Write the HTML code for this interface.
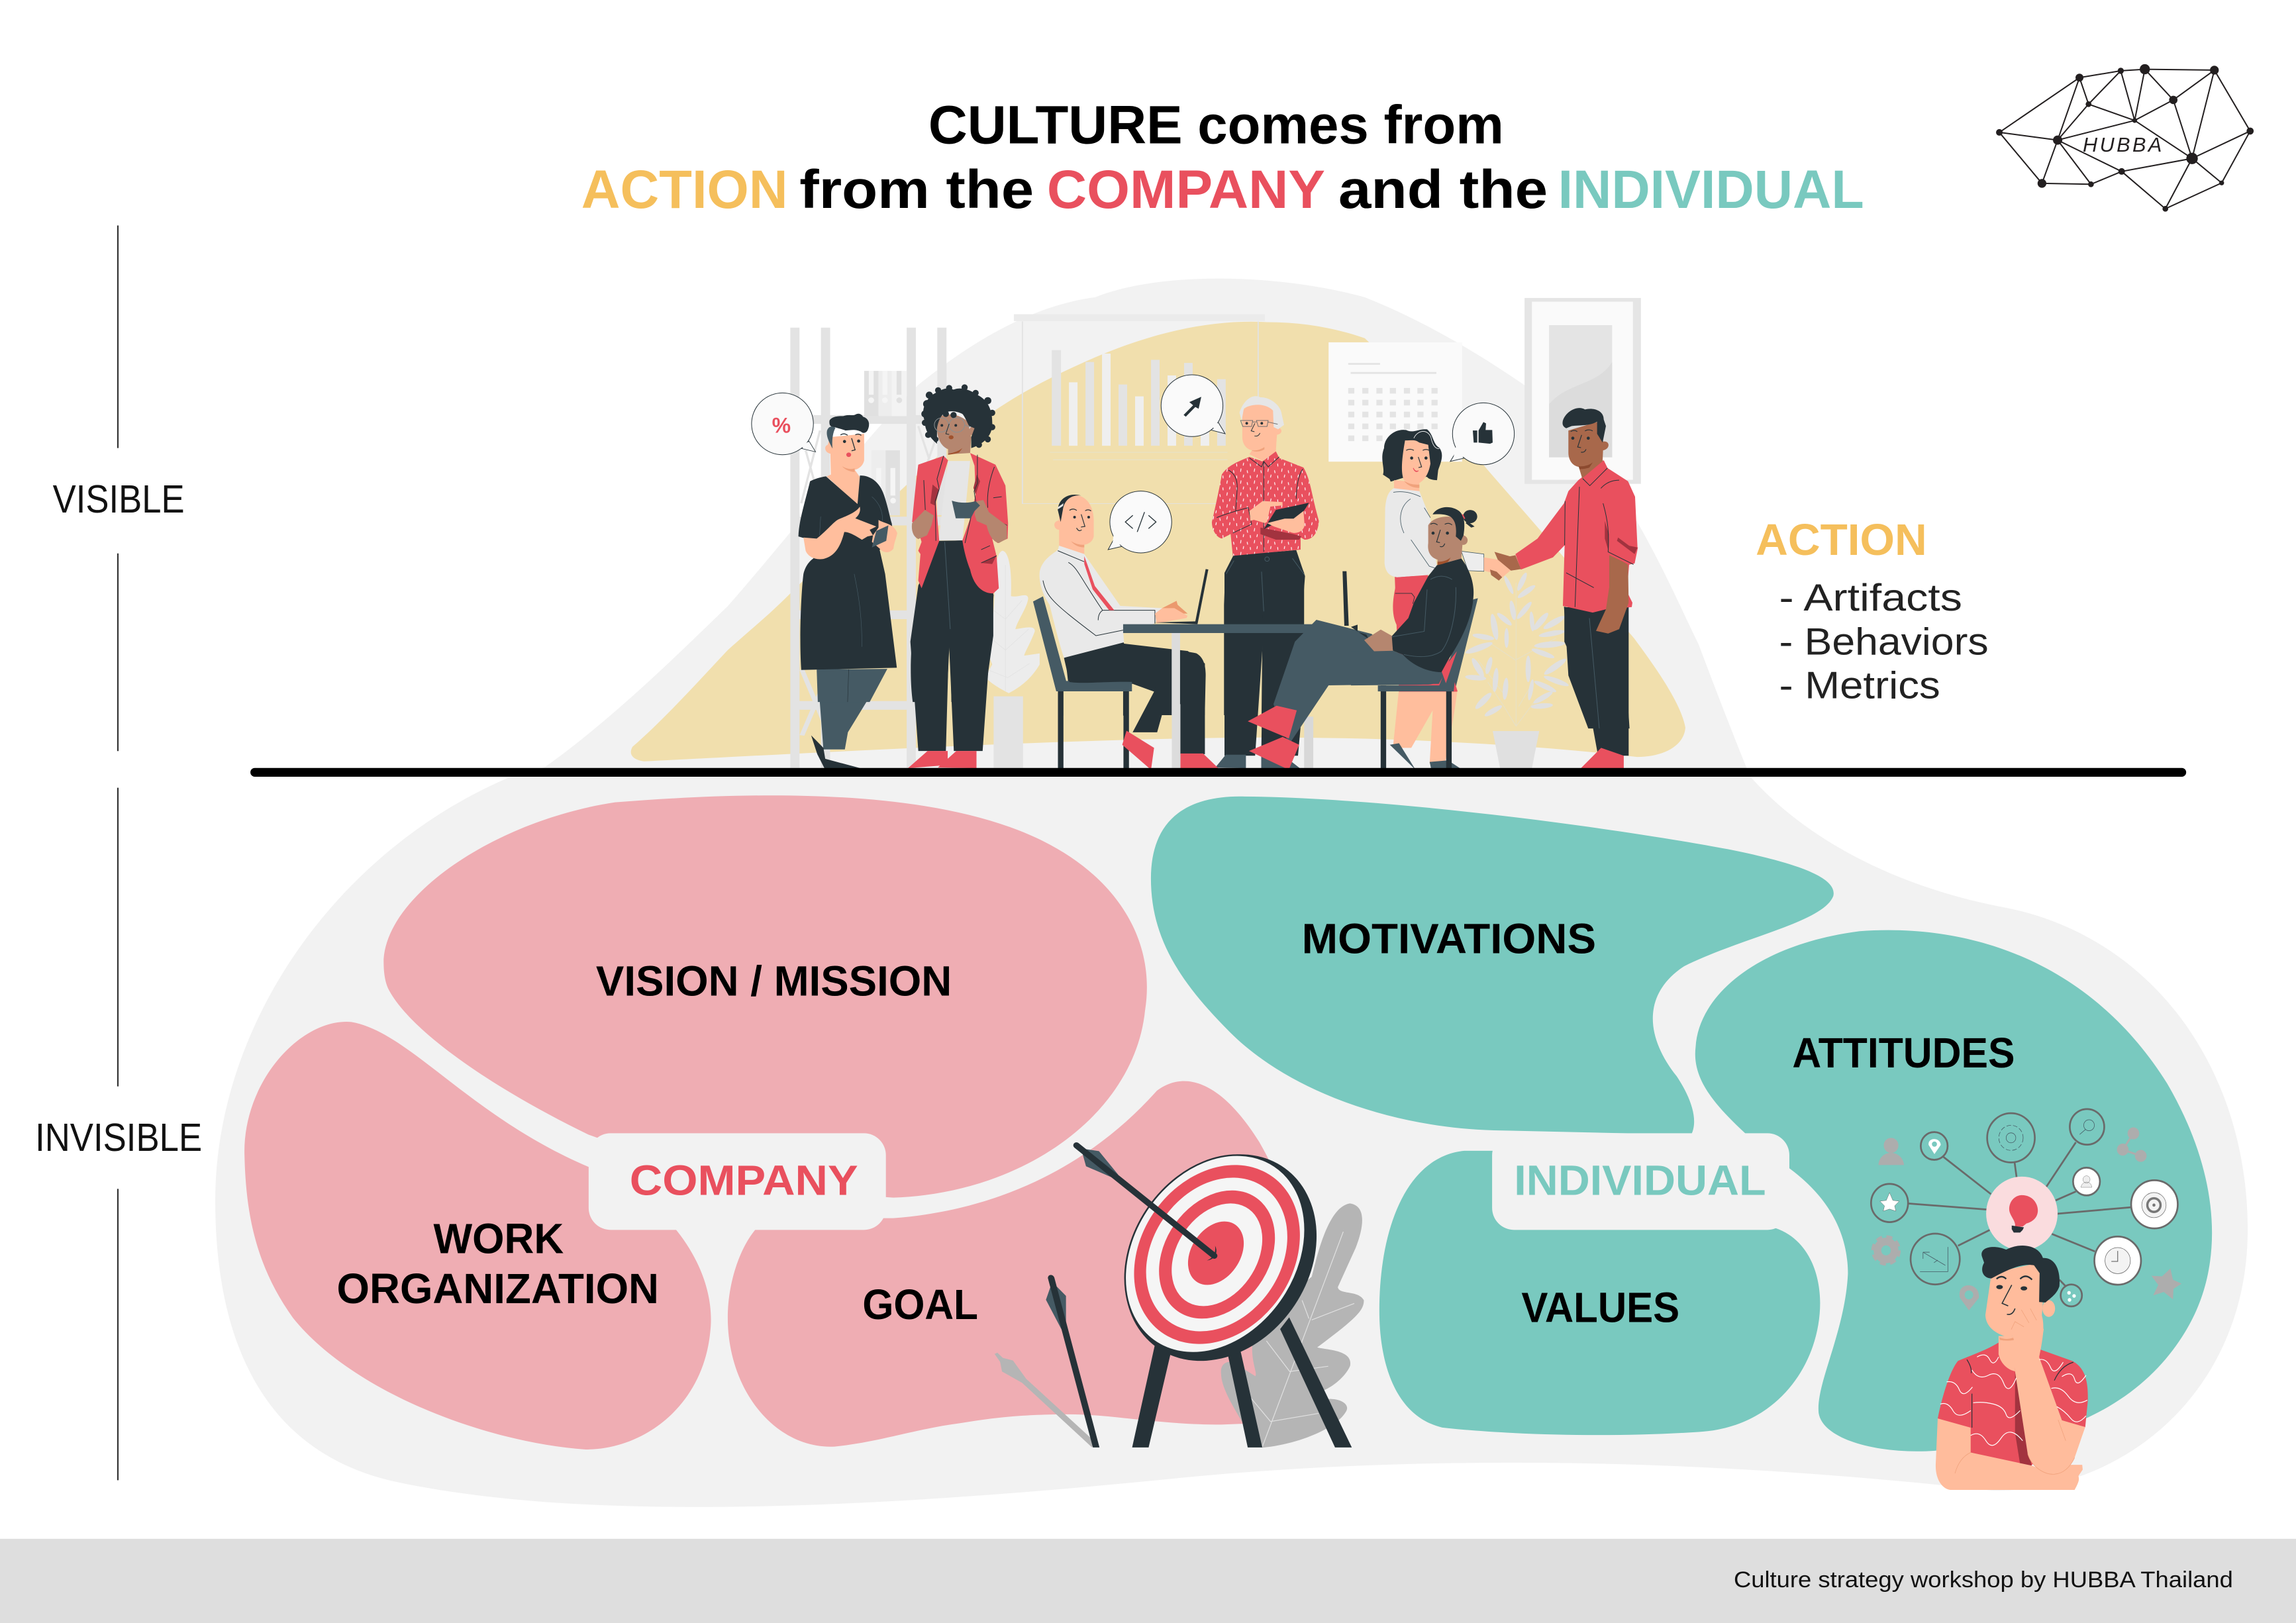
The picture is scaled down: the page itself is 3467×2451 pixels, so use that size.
<!DOCTYPE html>
<html><head><meta charset="utf-8"><title>Culture</title>
<style>html,body{margin:0;padding:0;background:#fff}svg{display:block}
text{font-family:"Liberation Sans",sans-serif}</style></head><body>
<svg xmlns="http://www.w3.org/2000/svg" width="3467" height="2451" viewBox="0 0 1568 1108.5">
<defs>
 <pattern id="dots" width="62" height="54" patternUnits="userSpaceOnUse">
  <path d="M12 6l-2 12M40 14l2 10M24 34l-2 10M54 38l1 10" stroke="#fff" stroke-width="3.5" stroke-linecap="round" fill="none"/>
 </pattern>
</defs>
<rect width="1568" height="1108.5" fill="#fff"/>
<!-- background blob -->
<path fill="#f2f2f2" d="M372 524C420 490 470 440 497 414C540 365 590 300 627 263C670 228 710 208 748 203C790 186 870 186 932 203C975 220 1015 245 1041 263C1070 290 1095 325 1116 353C1135 385 1150 420 1160 440C1175 480 1185 505 1195 530C1230 570 1290 605 1370 620C1470 640 1535 730 1535 840C1535 950 1450 1020 1360 1018C1200 1000 1000 990 800 1010C600 1030 400 1040 270 1012C170 990 147 900 147 820C147 700 230 580 350 530Z"/>
<!-- yellow -->
<path fill="#f1dfad" d="M432 510C455 490 480 462 497 444C515 428 525 420 539 406C565 380 590 358 614 336C635 316 655 298 677 282C700 266 725 254 748 244C790 226 830 218 865 220C890 220 912 224 932 231C965 262 995 295 1016 321C1050 360 1085 400 1116 436C1130 455 1148 480 1151 497C1150 510 1135 517 1118 517C1060 510 950 502 830 504C700 506 540 515 440 520C432 519 429 515 432 510Z"/>
<!-- pink -->
<path fill="#efadb3" d="M262 655C265 610 340 560 420 548C520 540 620 540 690 565C760 590 790 640 782 690C775 760 700 815 610 818L500 810L402 775C340 745 280 705 265 675C262 668 262 660 262 655Z"/>
<path fill="#efadb3" d="M167 790C165 740 205 695 240 698C280 705 320 762 402 797C460 820 490 870 485 910C480 960 440 990 400 990C330 985 240 950 200 900C175 865 168 830 167 790Z"/>
<path fill="#efadb3" d="M497 900C497 870 510 840 525 832L610 832C690 826 750 790 790 745C810 730 835 740 860 780C880 815 895 860 895 900L860 972L834 973C790 973 760 966 730 966C700 966 680 968 656 972C625 976 600 985 570 988C530 990 497 950 497 900Z"/>
<!-- teal -->
<path fill="#79c9bf" d="M786 600C786 560 810 543 850 544C950 545 1100 565 1180 580C1230 590 1255 600 1252 612C1245 630 1190 640 1150 660C1120 680 1125 710 1145 735C1155 750 1160 765 1155 775L1020 772C950 770 880 745 840 705C805 670 786 640 786 600Z"/>
<path fill="#79c9bf" d="M1158 715C1160 680 1200 645 1270 636C1350 630 1430 660 1480 740C1515 800 1520 860 1495 905C1470 950 1420 985 1330 990C1290 995 1245 985 1242 965C1240 945 1260 910 1262 870C1262 830 1235 805 1210 790C1175 760 1155 740 1158 715Z"/>
<path fill="#79c9bf" d="M942 895C942 840 960 790 1000 786L1030 786L1210 838C1235 845 1243 870 1243 890C1243 930 1215 975 1160 978C1100 982 1030 980 985 975C955 968 942 935 942 895Z"/>
<!-- label pads -->
<rect x="402" y="774" width="203" height="66" rx="15" fill="#f2f2f2"/>
<rect x="1019" y="774" width="203" height="66" rx="15" fill="#f2f2f2"/>
<!-- left rule lines -->
<g stroke="#333" stroke-width="1"><path d="M80.5 154V306M80.5 378V513M80.5 538V742M80.5 812V1011"/></g>

<!-- OFFICE BACKGROUND -->
<g transform="translate(497.5 203.5) scale(.4182 .2134)">
 <g fill="#e3e3e3">
  <rect x="101" y="95" width="15" height="1410"/><rect x="151" y="95" width="15" height="1410"/><rect x="291" y="95" width="15" height="1410"/><rect x="341" y="95" width="15" height="600"/>
  <rect x="105" y="375" width="250" height="28"/><rect x="105" y="700" width="250" height="28"/><rect x="105" y="1000" width="200" height="28"/><rect x="105" y="1290" width="200" height="28"/>
  <rect x="466" y="52" width="410" height="22" fill="#ebebeb"/>
  <rect x="528" y="167" width="15" height="306"/><rect x="556" y="270" width="14" height="203" fill="#efefef"/><rect x="583" y="205" width="14" height="268"/><rect x="610" y="178" width="14" height="295" fill="#efefef"/><rect x="637" y="277" width="14" height="196"/><rect x="664" y="315" width="14" height="158" fill="#efefef"/><rect x="690" y="198" width="14" height="275"/><rect x="717" y="248" width="14" height="225" fill="#efefef"/><rect x="744" y="208" width="14" height="265"/><rect x="771" y="270" width="14" height="203" fill="#efefef"/><rect x="798" y="260" width="14" height="213"/>
 </g>
 <path d="M480 75V658H865M865 75V500" fill="none" stroke="#e2e2e2" stroke-width="2"/>
 <path d="M525 494H815M530 518H815" stroke="#e8e2c8" stroke-width="2.5" fill="none"/>
 <rect x="980" y="142" width="218" height="382" fill="#fafafa"/>
 <g fill="#e4e4e4"><path d="M1012 208H1064V214H1012ZM1016 237H1156V243H1016Z"/>
  <path d="M1012 288h10v18h-10zM1035 288h10v18h-10zM1058 288h10v18h-10zM1080 288h10v18h-10zM1103 288h10v18h-10zM1125 288h10v18h-10zM1148 288h10v18h-10zM1012 326h10v18h-10zM1035 326h10v18h-10zM1058 326h10v18h-10zM1080 326h10v18h-10zM1103 326h10v18h-10zM1125 326h10v18h-10zM1148 326h10v18h-10zM1012 364h10v18h-10zM1035 364h10v18h-10zM1058 364h10v18h-10zM1080 364h10v18h-10zM1103 364h10v18h-10zM1125 364h10v18h-10zM1148 364h10v18h-10zM1012 402h10v18h-10zM1035 402h10v18h-10zM1058 402h10v18h-10zM1080 402h10v18h-10zM1103 402h10v18h-10zM1125 402h10v18h-10zM1148 402h10v18h-10zM1012 440h10v18h-10zM1035 440h10v18h-10zM1058 440h10v18h-10z"/></g>
 <rect x="1300" y="0" width="190" height="595" fill="#e5e5e5"/><rect x="1312" y="12" width="165" height="570" fill="#fafafa"/>
 <rect x="1340" y="87" width="103" height="423" fill="#e4e4e4"/><path d="M1340 510V340C1370 270 1420 280 1443 205V510Z" fill="#dcdcdc"/>
 <rect x="433" y="1275" width="48" height="230" fill="#e3e3e3"/>
 <path d="M1248 1386H1324L1312 1505H1260Z" fill="#e0e0e0"/>
 <path d="M120 1190L165 1400M166 1190L120 1400" stroke="#e3e3e3" stroke-width="8"/>
</g>
<!-- shelf binders & leaf -->
<g transform="translate(529.1 253.3) scale(.15076)">
 <rect x="405" y="0" width="65" height="205" fill="#e0e0e0"/><rect x="470" y="0" width="60" height="205" fill="#ededed"/><rect x="530" y="0" width="67" height="205" fill="#f3f3f3"/>
 <rect x="426" y="0" width="22" height="108" fill="#f5f5f5"/><circle cx="437" cy="133" r="13" fill="#f5f5f5"/>
 <rect x="488" y="0" width="22" height="108" fill="#f5f5f5"/><circle cx="499" cy="133" r="13" fill="#f5f5f5"/>
 <rect x="552" y="0" width="22" height="108" fill="#e0e0e0"/><circle cx="564" cy="133" r="13" fill="#e0e0e0"/>
 <rect x="438" y="360" width="64" height="295" fill="#ededed"/><rect x="502" y="360" width="65" height="295" fill="#e0e0e0"/>
 <rect x="460" y="440" width="22" height="130" fill="#f5f5f5"/><rect x="524" y="440" width="22" height="125" fill="#f5f5f5"/><circle cx="536" cy="588" r="13" fill="#f5f5f5"/>
 <path d="M140 360L210 610M205 270L120 600M650 250L700 400M725 320L690 420" stroke="#e3e3e3" stroke-width="10" fill="none"/>
 <path d="M1030 815C1060 815 1075 900 1070 1020C1100 1030 1145 1000 1148 1030C1145 1070 1100 1130 1090 1170C1130 1165 1180 1150 1178 1180C1160 1230 1130 1280 1130 1290L1200 1280V1330C1160 1400 1100 1440 1060 1460C1000 1430 960 1400 955 1385L985 1330L950 1240C970 1200 990 1150 995 1030C1000 900 1000 830 1030 815Z" fill="#ececec"/>
 <path d="M1045 880V1450M985 1080L1045 1125L1120 1040M965 1200L1045 1265L1150 1170M955 1350L1055 1390L1155 1325" fill="none" stroke="#e0e0e0" stroke-width="2"/>
</g>
<!-- plant right -->
<g transform="translate(922.6 271.4) scale(.15076)" fill="#e0e0e0">
 <path d="M748 840V1490M690 1395L748 1490L830 1380M620 1290L690 1395M825 1290L760 1400M625 1110L745 1190L930 1090M575 1190L690 1340" fill="none" stroke="#e6e0c8" stroke-width="3"/>
 <ellipse cx="715" cy="850" rx="10" ry="45" transform="rotate(-25 715 850)"/><ellipse cx="775" cy="835" rx="12" ry="45" transform="rotate(25 775 835)"/><ellipse cx="795" cy="880" rx="12" ry="48" transform="rotate(55 795 880)"/><ellipse cx="733" cy="965" rx="12" ry="45" transform="rotate(-10 733 965)"/><ellipse cx="785" cy="965" rx="12" ry="50" transform="rotate(40 785 965)"/><ellipse cx="650" cy="1040" rx="14" ry="60" transform="rotate(-10 650 1040)"/><ellipse cx="695" cy="1005" rx="12" ry="42" transform="rotate(-50 695 1005)"/><ellipse cx="705" cy="1090" rx="10" ry="45"/><ellipse cx="820" cy="1015" rx="10" ry="45" transform="rotate(-5 820 1015)"/><ellipse cx="860" cy="1015" rx="14" ry="50" transform="rotate(40 860 1015)"/><ellipse cx="920" cy="1020" rx="14" ry="55" transform="rotate(60 920 1020)"/><ellipse cx="600" cy="1085" rx="12" ry="50" transform="rotate(-80 600 1085)"/><ellipse cx="910" cy="1070" rx="12" ry="60" transform="rotate(80 910 1070)"/><ellipse cx="580" cy="1135" rx="14" ry="65" transform="rotate(70 580 1135)"/><ellipse cx="900" cy="1120" rx="14" ry="70" transform="rotate(85 900 1120)"/><ellipse cx="870" cy="1160" rx="12" ry="55" transform="rotate(-70 870 1160)"/><ellipse cx="575" cy="1225" rx="14" ry="50" transform="rotate(-30 575 1225)"/><ellipse cx="625" cy="1215" rx="12" ry="40" transform="rotate(15 625 1215)"/><ellipse cx="655" cy="1280" rx="12" ry="55" transform="rotate(5 655 1280)"/><ellipse cx="700" cy="1320" rx="12" ry="50" transform="rotate(5 700 1320)"/><ellipse cx="803" cy="1230" rx="12" ry="60"/><ellipse cx="925" cy="1220" rx="14" ry="60" transform="rotate(55 925 1220)"/><ellipse cx="930" cy="1285" rx="12" ry="60" transform="rotate(-70 930 1285)"/><ellipse cx="565" cy="1270" rx="12" ry="48" transform="rotate(-85 565 1270)"/><ellipse cx="880" cy="1310" rx="12" ry="55" transform="rotate(-65 880 1310)"/><ellipse cx="600" cy="1375" rx="14" ry="50" transform="rotate(45 600 1375)"/><ellipse cx="815" cy="1325" rx="10" ry="48" transform="rotate(10 815 1325)"/><ellipse cx="870" cy="1360" rx="12" ry="50" transform="rotate(60 870 1360)"/><ellipse cx="645" cy="1420" rx="12" ry="45" transform="rotate(60 645 1420)"/><ellipse cx="865" cy="1398" rx="12" ry="50" transform="rotate(85 865 1398)"/>
</g>

<!-- LOWER BODIES 1,2,5,7 -->
<g transform="translate(497.5 203.5) scale(.4182 .2134)">
 <path d="M145 1188H258L195 1390L190 1445H155Z" fill="#455a64"/>
 <path d="M135 1400L155 1440L158 1475L225 1510H158L145 1460Z" fill="#263238"/>
 <path d="M345 780L385 775L433 950L415 1450H368L360 1100L355 1450H310L297 1100L310 920Z" fill="#263238"/>
 <path d="M293 1505L325 1450H358V1495ZM342 1503L372 1450H405V1505Z" fill="#e9505e"/>
 <path d="M1095 1250H1185L1190 1260C1185 1340 1175 1440 1170 1490H1145L1150 1320L1115 1440H1085Z" fill="#ffbe9d"/>
 <path d="M1088 890H1145L1190 1260H1095Z" fill="#e9505e"/>
 <path d="M1080 1430L1095 1425L1122 1510ZM1145 1485L1175 1480L1200 1512H1148Z" fill="#455a64"/>
 <path d="M1365 990L1470 985L1470 1465H1420L1400 1250L1365 1100Z" fill="#263238"/>
 <path d="M1392 1505L1425 1440L1462 1465V1508Z" fill="#e9505e"/>
</g>
<!-- PERSON 1 & 2 UPPER -->
<g transform="translate(529.1 253.3) scale(.15076)">
 <path d="M250 300L405 285V405C400 430 380 445 362 448L385 480L378 610L235 478L254 470L252 375C225 370 222 340 240 335Z" fill="#ffbe9d"/>
 <path d="M305 432Q335 450 362 442V458Q325 455 305 432Z" fill="#f0a27c"/>
 <path d="M248 225C260 205 290 205 310 205C340 195 350 205 365 198C385 188 395 200 400 208C425 215 435 240 420 270C412 282 400 285 390 275C360 262 345 270 320 270C300 262 285 260 272 255C255 255 245 250 248 225Z" fill="#263238"/>
 <path d="M237 270C245 250 260 248 275 258C262 280 258 320 262 352C245 320 232 295 237 270Z" fill="#455a64"/>
 <circle cx="316" cy="320" r="7" fill="#263238"/><circle cx="380" cy="318" r="7" fill="#263238"/>
 <path d="M298 290Q315 280 330 292M365 290Q378 282 392 292M348 305L364 358L348 362" fill="none" stroke="#263238" stroke-width="4"/>
 <ellipse cx="335" cy="380" rx="11" ry="10" fill="#e9505e"/>
 <path d="M232 478L375 603L386 474C430 473 470 500 490 550C510 600 525 680 530 690L540 770L475 810L500 920L553 1345L120 1355C110 1200 120 1000 130 920C140 880 160 860 175 850L170 780L130 757L107 750C110 680 130 620 160 500C180 490 205 482 232 478Z" fill="#263238"/>
 <path d="M190 1353L510 1350L430 1500H195Z" fill="#455a64"/><path d="M335 1352L330 1500" stroke="#263238" stroke-width="2"/>
 <path d="M360 920C385 1040 395 1130 395 1250M440 570C475 600 490 640 488 680M208 660L203 745" stroke="#455a64" stroke-width="2" fill="none"/>
 <path d="M130 755L190 760C240 720 270 680 290 672C330 655 370 640 385 615C392 640 375 660 365 668L460 705L430 720L445 745L420 750L395 765C370 750 340 730 315 730C300 790 275 840 220 852C180 858 150 840 140 815Z" fill="#ffbe9d"/>
 <path d="M470 675C490 690 540 690 555 735C550 760 540 780 538 805C520 830 490 825 475 805L440 775L445 745L470 710Z" fill="#ffbe9d"/>
 <path d="M440 800L460 725L515 700L505 770Z" fill="#455a64"/>

 <path d="M745 770L855 768L990 1005V1200L948 1500H800L795 1170L778 1500H625C605 1350 620 1150 660 970Z" fill="#263238"/>
 <path d="M770 775L795 1170" stroke="#455a64" stroke-width="3"/>
 <path d="M785 408H885L850 768H742Z" fill="#e6e6e6"/>
 <path d="M650 425L765 385L785 405L745 540L730 590L745 770L665 985L650 950L660 830L650 815L665 775L640 690L622 685C630 600 640 500 650 425Z" fill="#e9505e"/>
 <path d="M885 372L1000 425L1045 520L1057 690L1055 760L1010 780L985 760L1005 840L1015 985L990 1008C940 1010 900 970 885 900C865 850 855 800 850 768L885 670L910 560L905 430Z" fill="#e9505e"/>
 <path d="M715 515L745 540L725 610L705 600ZM915 470L930 500L910 560L900 530ZM935 870L1005 835L985 875Z" fill="#a2333f"/>
 <path d="M765 385L735 490L745 535L727 590L730 770M918 380V510L903 545L910 590L887 670L862 780M995 435C970 500 960 560 965 620M675 495L682 630M935 810L975 792M935 870L1005 838M990 575L1028 570M995 670L1052 700" fill="none" stroke="#263238" stroke-width="3"/>
 <path d="M622 690L680 630L720 655L710 700L690 745L650 762C625 750 618 720 622 690Z" fill="#b5866f"/>
 <path d="M905 650L915 590L945 585L970 640L1050 700L1052 760L1015 780C990 775 970 745 960 700L915 680Z" fill="#b5866f"/>
 <path d="M802 588C840 600 880 600 910 590L930 610L905 635L888 668H820Z" fill="#455a64"/>
 <path d="M745 210C770 190 830 190 875 230L890 300L885 372L785 378V355C750 340 735 300 735 260Z" fill="#b5866f"/>
 <path d="M785 375Q825 370 850 350L835 370Q810 378 785 380Z" fill="#a0522d"/>
 <ellipse cx="895" cy="272" rx="14" ry="20" fill="#b5866f"/>
 <path d="M735 330C700 300 680 270 680 230C665 190 670 150 710 110C750 90 770 70 810 85C850 70 890 90 920 110C960 130 985 170 985 230C990 290 950 330 890 350V300L905 260L880 250C870 230 860 205 850 195C820 180 790 180 770 190C750 205 740 230 735 260Z" fill="#263238"/>
 <g fill="#263238"><circle cx="690" cy="150" r="18"/><circle cx="680" cy="195" r="16"/><circle cx="680" cy="235" r="14"/><circle cx="700" cy="110" r="16"/><circle cx="740" cy="88" r="14"/><circle cx="790" cy="78" r="14"/><circle cx="860" cy="75" r="14"/><circle cx="910" cy="100" r="14"/><circle cx="965" cy="135" r="16"/><circle cx="985" cy="190" r="14"/><circle cx="985" cy="255" r="14"/><circle cx="965" cy="310" r="14"/><circle cx="925" cy="335" r="14"/><circle cx="730" cy="310" r="12"/><circle cx="695" cy="290" r="14"/><circle cx="810" cy="200" r="14"/><circle cx="775" cy="195" r="14"/></g>
 <g fill="none" stroke="#8a8f90" stroke-width="3"><ellipse cx="755" cy="245" rx="32" ry="32"/><ellipse cx="825" cy="245" rx="35" ry="33"/><path d="M860 245L885 255"/></g>
 <circle cx="757" cy="247" r="6" fill="#263238"/><circle cx="820" cy="247" r="6" fill="#263238"/>
 <path d="M790 240L775 285L790 288" fill="none" stroke="#263238" stroke-width="3"/>
 <ellipse cx="799" cy="301" rx="11" ry="9" fill="#a0522d"/>
 <!-- bubble % -->
 <path d="M155 318L185 367L122 352Z" fill="#fafafa" stroke="#263238" stroke-width="2.5"/>
 <circle cx="35" cy="240" r="140" fill="#fafafa" stroke="#263238" stroke-width="3"/>
 <path d="M150 322L165 355L118 345Z" fill="#fafafa"/>
 <text x="30" y="280" font-size="96" font-weight="bold" fill="#e9505e" text-anchor="middle">%</text>
</g>
<!-- PERSON 5 & 7 UPPER -->
<g transform="translate(922.6 271.4) scale(.15076)">
 <rect x="0" y="0" width="0" height="0"/>
 <path d="M150 230C150 180 200 140 250 148C280 165 310 140 345 145C375 170 370 210 400 228C425 260 405 300 395 330L390 375C370 375 350 370 345 360L235 365L180 382L175 370L145 350C155 320 130 280 150 230Z" fill="#263238"/>
 <path d="M195 375L310 385V430L195 420Z" fill="#ffbe9d"/>
 <path d="M245 195C280 195 290 190 310 205L350 215L360 300C350 360 320 395 280 395L240 375C225 340 230 280 245 195Z" fill="#ffbe9d"/>
 <path d="M240 378Q270 398 310 395V410Q265 410 240 378Z" fill="#f0a27c"/>
 <circle cx="275" cy="275" r="7" fill="#263238"/><circle cx="340" cy="275" r="7" fill="#263238"/>
 <path d="M250 240Q268 230 285 240M325 240Q340 232 355 240M305 270L320 315L306 318" fill="none" stroke="#263238" stroke-width="3.5"/>
 <path d="M282 320Q292 340 306 332Q292 345 282 320Z" fill="#e9505e" stroke="#e9505e" stroke-width="3"/>
 <path d="M285 185C300 150 345 140 362 180C368 210 380 235 400 232" fill="none" stroke="#fff" stroke-width="2.5"/>
 <path d="M500 697L602 710V788L530 785Z" fill="#ededed" stroke="#455a64" stroke-width="2.5"/>
 <path d="M195 412L310 425L360 550L390 770L350 805L210 815C165 810 155 780 152 750L155 500C160 450 170 425 195 412Z" fill="#e9e9e9"/>
 <path d="M192 430Q250 420 315 450M270 460C225 490 210 550 240 615M272 645L355 765L385 775M332 500L360 545" fill="none" stroke="#455a64" stroke-width="2.5"/>
 <path d="M213 815L350 805L285 930L270 1000L215 1045C185 1000 180 930 213 815Z" fill="#e9505e"/>
 <path d="M200 888H275L288 905L280 935" fill="none" stroke="#263238" stroke-width="2.5"/>

 <!-- person 7 -->
 <path d="M965 948L1095 975L1155 965L1258 945L1248 1100L1245 1250L1262 1500H1075L985 1260L975 1100Z" fill="#263238"/>
 <path d="M1080 1000L1125 1500" stroke="#455a64" stroke-width="3"/>
 <path d="M1030 375L1145 285L1162 320L1255 380L1287 450L1298 680L1285 752L1260 758L1250 880L1275 930L1272 950L1155 960L1095 975L960 945L968 670L915 725L770 780L745 710L845 640L965 480L985 425Z" fill="#e9505e"/>
 <path d="M1170 715L1255 755L1258 930L1215 1050L1165 1070L1110 1058L1155 960L1170 860Z" fill="#a8684b"/>
 <path d="M1150 560L1170 600L1165 690L1300 680L1285 752L1255 758L1170 705L1150 640Z" fill="#e9505e"/>
 <path d="M1150 560L1168 620L1165 690L1150 640Z" fill="#a2333f"/>
 <path d="M1210 635L1260 672L1298 680L1285 710L1205 650Z" fill="#a2333f"/>
 <path d="M1142 480C1165 560 1170 620 1165 700L1280 757M1132 412Q1165 375 1215 375M1035 405L1015 950M970 470L968 670M975 795L1100 862" fill="none" stroke="#263238" stroke-width="3"/>
 <path d="M602 725L665 735L728 780L680 820L640 795L602 785Z" fill="#ffbe9d"/>
 <path d="M650 700L720 720L745 715L770 778L725 785L665 735ZM630 780L660 790L685 815L670 830L635 805Z" fill="#a8684b"/>
 <path d="M985 150L1120 110L1142 200C1175 195 1175 235 1142 240L1140 285L1145 290L1050 375L1032 315C1000 310 985 280 985 250Z" fill="#a8684b"/>
 <path d="M1032 312Q1070 315 1095 295L1080 318Q1060 325 1035 325Z" fill="#8c4a2f"/>
 <path d="M1145 285L1162 320L1080 400L1050 365Z" fill="#e9505e"/><path d="M1162 320L1082 400L1050 368" fill="none" stroke="#263238" stroke-width="3"/>
 <path d="M960 105C975 60 1030 35 1060 55C1100 45 1145 60 1145 100L1155 130L1140 205L1115 165V110C1080 130 1040 125 1000 130L975 140C955 130 958 115 960 105Z" fill="#263238"/>
 <circle cx="1005" cy="185" r="7" fill="#263238"/><circle cx="1075" cy="185" r="7" fill="#263238"/>
 <path d="M995 155Q1012 145 1025 155M1060 152Q1078 142 1095 152M1045 170L1027 225L1042 228M1042 248Q1058 252 1065 235" fill="none" stroke="#263238" stroke-width="3.5"/>
</g>

<!-- SEATED MAN LEGS + STANDING MAN LEGS -->
<g transform="translate(497.5 203.5) scale(.4182 .2134)">
 <rect x="538" y="1240" width="9" height="270" fill="#263238"/><rect x="645" y="1240" width="9" height="270" fill="#263238"/>
 <path d="M825 822L925 808L940 880V1250L930 1465H870L873 1090L860 1465H810V880Z" fill="#263238"/>
 <path d="M795 1503L812 1462H845V1505ZM870 1462H905L935 1508H870Z" fill="#455a64"/>
 <path d="M550 1150L640 1105L750 1130L778 1170V1460H735L722 1235L700 1390L660 1390L695 1260L660 1235H555Z" fill="#263238"/>
 <path d="M650 1385L695 1440L690 1510L643 1430ZM738 1458H775L800 1505H738Z" fill="#e9505e"/>
</g>
<g transform="translate(705.5 262.3) scale(.15076)">
 <path d="M908 780L1192 752L1232 870L1215 1090L1200 1290L1160 1500H1035L1040 1040L1000 1500H865V1000L870 870Z" fill="#263238"/>
 <path d="M910 800L875 860M1175 790L1230 865M1035 850L1045 1030" stroke="#455a64" stroke-width="3" fill="none"/>
 <circle cx="1060" cy="793" r="10" fill="none" stroke="#455a64" stroke-width="3"/>
 <path id="shirt" d="M980 330L1040 350L1100 305L1115 335L1225 378C1260 440 1260 500 1295 620C1290 680 1265 705 1230 705L1212 695V750L905 778L895 680L855 700C830 695 810 660 810 625C825 560 845 470 855 410C880 370 930 350 980 330Z" fill="#e9505e"/>
 <path d="M980 330L1040 350L1100 305L1115 335L1225 378C1260 440 1260 500 1295 620C1290 680 1265 705 1230 705L1212 695V750L905 778L895 680L855 700C830 695 810 660 810 625C825 560 845 470 855 410C880 370 930 350 980 330Z" fill="url(#dots)"/>
 <path d="M980 335L1035 375L1045 350L1065 375L1115 330M1045 350V760M885 390Q925 410 925 470L918 575M1222 385Q1195 420 1192 520M832 605Q880 585 975 560L990 635L905 675" fill="none" stroke="#263238" stroke-width="3"/>
 <path d="M1030 650L1180 680L1215 690L1205 705H1100L1030 680Z" fill="#a2333f"/>
 <path d="M1045 658L1100 570L1250 538C1220 590 1190 620 1175 610L1120 620Z" fill="#263238"/>
 <path d="M985 620L980 575L1040 530L1130 535V550L1075 555L1060 625L1050 630L1000 615Z" fill="#ffbe9d"/>
 <path d="M1060 630L1140 610L1180 610L1225 575L1230 640C1225 670 1190 680 1170 672L1090 645Z" fill="#ffbe9d"/>
 <path d="M948 130C955 90 1050 70 1090 100L1100 195C1130 195 1135 225 1105 230L1102 270L1100 305L1040 348L980 318L992 300C965 295 948 270 948 240Z" fill="#ffbe9d"/>
 <path d="M992 300Q1020 305 1048 285V296Q1020 312 992 302Z" fill="#f0a27c"/>
 <path d="M935 130C950 80 990 40 1030 60C1080 60 1120 100 1125 130L1137 185L1110 205L1090 195L1087 120C1060 90 1000 85 955 110L945 165Z" fill="#e6e6e6"/>
 <g fill="none" stroke="#6f6f6f" stroke-width="3"><path d="M940 165H995L990 192H950ZM1012 165H1065L1060 192H1020ZM995 172L1012 172M1065 172L1108 182"/></g>
 <circle cx="968" cy="178" r="6" fill="#263238"/><circle cx="1036" cy="178" r="6" fill="#263238"/>
 <path d="M1005 178L988 212L1003 216M1003 235Q1020 240 1028 222" fill="none" stroke="#263238" stroke-width="3"/>

 <!-- chair and person 3 -->
 <path d="M0 985L45 962L150 1345H448V1392H105Z" fill="#455a64"/>
 <rect x="115" y="1392" width="22" height="110" fill="#263238"/><rect x="408" y="1392" width="24" height="110" fill="#263238"/>
 <path d="M140 1240L410 1170L415 1183C550 1190 700 1210 740 1220C775 1240 782 1280 782 1320L778 1500H590L500 1500L585 1385L470 1350C350 1345 230 1360 165 1350Z" fill="#263238"/>
 <path d="M112 752L118 732L232 770L395 1005L585 1015L552 1085L408 1120L412 1170L140 1240C120 1180 100 1100 75 1000C40 950 25 890 30 850C40 800 80 775 112 752Z" fill="#e9e9e9"/>
 <path d="M112 755L232 805M160 808C200 830 210 870 315 1025M45 890C60 960 80 985 285 1140L408 1115M315 1025H552V1085M315 1025C300 1035 295 1050 295 1070" fill="none" stroke="#263238" stroke-width="3"/>
 <path d="M232 780L245 815L280 915L368 1025H345L270 930L232 815Z" fill="#e9505e"/>
 <path d="M585 1015L650 982L655 1000L700 1040L660 1040Z" fill="#eb996e"/>
 <path d="M552 1040L585 1015L640 1015L700 1050L695 1060L610 1075L560 1085Z" fill="#ffbe9d"/>
 <path d="M550 1080L735 1075L782 838L794 840L745 1088Z" fill="#263238"/>
 <path d="M118 620C115 560 130 500 190 503C240 505 275 550 275 620V690C270 715 250 725 232 728V770L118 732V660C95 660 85 625 115 618Z" fill="#ffbe9d"/>
 <path d="M172 712Q200 730 232 728V740Q195 740 172 712Z" fill="#f0a27c"/>
 <path d="M112 570C115 520 160 490 218 505C170 500 140 530 135 570L125 625Z" fill="#263238"/>
 <path d="M112 558L138 540L136 552L113 567Z" fill="#e6e6e6"/>
 <circle cx="188" cy="603" r="6" fill="#263238"/><circle cx="252" cy="603" r="6" fill="#263238"/>
 <path d="M165 572Q182 560 198 573M236 574Q250 565 263 575M218 590L235 645L217 648M197 652Q208 672 220 660" fill="none" stroke="#263238" stroke-width="3.5"/>
 <!-- table -->
 <rect x="628" y="1125" width="38" height="375" fill="#dcdcdc"/>
 <rect x="408" y="1088" width="870" height="40" fill="#455a64"/>
 <path d="M1402 848H1420L1430 1095H1410Z" fill="#263238"/>
 <!-- bubbles -->
 <g fill="#fafafa" stroke="#263238" stroke-width="3">
  <path d="M805 208L870 225L838 172Z"/><circle cx="720" cy="98" r="140"/><path d="M370 695L340 750L405 735Z"/><circle cx="488" cy="625" r="140"/>
 </g>
 <path d="M800 190L845 212L832 165ZM365 680L358 738L420 720Z" fill="#fafafa"/>
 <path d="M682 140L725 96L708 82L762 58L750 112L735 104L692 148Z" fill="#263238"/>
 <path d="M452 595L418 625L452 655M523 595L557 625L523 655M505 580L472 670" fill="none" stroke="#263238" stroke-width="4"/>
</g>
<!-- PERSON 6 -->
<g transform="translate(497.5 203.5) scale(.4182 .2134)">
 <rect x="940" y="1340" width="15" height="170" fill="#d8d8d8"/>
 <rect x="724" y="1300" width="14" height="210" fill="#dcdcdc"/>
 <rect x="1065" y="1240" width="9" height="270" fill="#263238"/><rect x="1172" y="1240" width="9" height="270" fill="#263238"/>
 <path d="M960 1030L1050 1075L1085 1130L1170 1200L1160 1235L980 1240L915 1430L890 1300L925 1100Z" fill="#455a64"/>
 <path d="M848 1355L895 1305L928 1320L915 1410ZM850 1450L905 1405L932 1430L915 1510Z" fill="#e9505e"/>
</g>
<g transform="translate(922.6 271.4) scale(.15076)">
 <path d="M555 915L575 910L470 1332H122V1305H400Z" fill="#455a64"/>
 <path d="M410 1240L480 1150L430 1295ZM470 1290L483 1332H465Z" fill="#e9505e"/>
 <path d="M0 1150L190 1148L235 1165L410 1245L385 1290C370 1305 340 1300 300 1302L0 1305Z" fill="#455a64"/>
 <path d="M0 1040L30 1030V1062L70 1075L80 1095Z" fill="#263238"/>
 <path d="M390 760L500 730C530 770 560 830 555 900C550 1000 500 1100 440 1190L410 1245C350 1245 280 1215 235 1165L190 1148L182 1085L260 1000L285 930L350 810Z" fill="#263238"/>
 <path d="M360 825Q410 795 458 825M345 870L332 1060L185 1085M475 860C480 980 450 1100 410 1150Q350 1190 240 1165" fill="none" stroke="#455a64" stroke-width="3"/>
 <path d="M60 1100L135 1052L185 1080L190 1148L105 1150Z" fill="#b5866f"/>
 <path d="M350 580C370 540 440 530 505 550L510 625C540 635 530 672 505 668L500 730L392 760V735C360 725 345 700 350 660Z" fill="#b5866f"/>
 <path d="M392 745Q430 745 452 725L440 745Q420 755 392 760Z" fill="#a0522d"/>
 <path d="M370 530C390 495 450 485 490 515C520 540 515 590 510 625L498 650L475 630C480 580 470 555 450 540C420 525 385 530 370 530Z" fill="#263238"/>
 <ellipse cx="540" cy="540" rx="32" ry="30" fill="#263238"/><path d="M525 560L560 585L545 590L520 570Z" fill="#263238"/>
 <path d="M505 530L515 550" stroke="#e9505e" stroke-width="6"/>
 <circle cx="372" cy="615" r="7" fill="#263238"/><circle cx="437" cy="615" r="7" fill="#263238"/>
 <path d="M360 575Q375 565 392 578M425 575Q442 565 458 578M405 600L388 655L403 658M403 675Q418 682 425 662" fill="none" stroke="#263238" stroke-width="3.5"/>
 <!-- thumb bubble -->
 <path d="M482 238L450 290L515 275Z" fill="#fafafa" stroke="#263238" stroke-width="3"/>
 <circle cx="600" cy="165" r="140" fill="#fafafa" stroke="#263238" stroke-width="3"/>
 <path d="M475 225L462 282L525 265Z" fill="#fafafa"/>
 <path d="M552 150H572V205H556ZM578 150L600 112L612 118L610 148H640L642 205L630 210L578 205Z" fill="#263238"/>
</g>

<!-- base line -->
<line x1="174" y1="527.5" x2="1490" y2="527.5" stroke="#000" stroke-width="6" stroke-linecap="round"/>

<!-- TARGET -->
<g transform="translate(655.8 723.6) scale(.1875 .1788)">
 <path d="M950 1200C945 1150 990 1140 1030 1180L1075 1210C1085 1190 1040 1130 1080 1000L1280 830C1300 750 1340 560 1420 550C1480 560 1470 640 1440 720L1375 870C1380 900 1450 880 1470 920C1470 960 1440 990 1300 1100C1340 1110 1430 1110 1420 1170C1400 1220 1340 1260 1320 1265L1340 1297C1390 1295 1420 1320 1405 1345C1370 1410 1230 1470 1100 1483L1030 1390C990 1320 950 1250 950 1200Z" fill="#b5b5b5"/>
 <path d="M1395 658L1100 1480M1435 932L1280 995M1340 1172L1200 1192L1115 1075M1305 1352L1130 1383L1060 1295M1270 990L1245 920" fill="none" stroke="#e0e0e0" stroke-width="3"/>
 <path d="M712 1075L768 1115L686 1482H626ZM975 1130L1020 1110L1100 1482H1047ZM1165 1030L1198 985L1426 1482H1365Z" fill="#263238"/>
 <ellipse cx="948" cy="757" rx="325" ry="415" transform="rotate(30 948 757)" fill="#263238"/>
 <ellipse cx="928" cy="743" rx="300" ry="400" transform="rotate(30 928 743)" fill="#f5f5f5" stroke="#263238" stroke-width="6"/>
 <ellipse cx="935" cy="745" rx="280" ry="360" transform="rotate(30 935 745)" fill="#e9505e"/>
 <ellipse cx="934" cy="745" rx="237" ry="310" transform="rotate(30 934 745)" fill="#f5f5f5"/>
 <ellipse cx="935" cy="745" rx="192" ry="260" transform="rotate(30 935 745)" fill="#e9505e"/>
 <ellipse cx="935" cy="746" rx="147" ry="210" transform="rotate(30 935 746)" fill="#f5f5f5"/>
 <ellipse cx="931" cy="740" rx="90" ry="130" transform="rotate(30 931 740)" fill="#e9505e"/>
 <path d="M440 340L505 350L575 440L555 452L458 408Z" fill="#455a64"/>
 <line x1="423" y1="328" x2="925" y2="750" stroke="#263238" stroke-width="23" stroke-linecap="round"/>
 <path d="M928 712C940 735 930 765 898 768C920 760 932 740 928 712Z" fill="#263238"/>
 <path d="M125 1125L135 1120L155 1140L192 1150L240 1220L490 1460L480 1482L225 1235L152 1192L145 1155Z" fill="#b5b5b5"/>
 <path d="M328 870L352 868L385 903V1030H368L312 918Z" fill="#455a64"/>
 <path d="M319 835C320 818 340 820 343 835L507 1482H483Z" fill="#263238"/>
</g>

<!-- THINKER -->
<g transform="translate(1243.7 746.2) scale(.1731 .1788)">
 <g stroke="#6a6a6a" stroke-width="7" fill="none">
  <path d="M480 244L670 388M763 265L772 330M1005 190L885 365M1005 378L925 412M1225 438L930 463M1080 607L910 540M345 424L655 447M540 585L665 525M940 715L965 740"/>
  <circle cx="446" cy="204" r="53"/><circle cx="749" cy="173" r="94"/><circle cx="1049" cy="131" r="68"/><circle cx="270" cy="422" r="73"/><circle cx="450" cy="636" r="97"/><circle cx="987" cy="775" r="42"/>
  <circle cx="1047" cy="340" r="53" fill="#fff"/><circle cx="1315" cy="427" r="92" fill="#fff"/><circle cx="1170" cy="642" r="92" fill="#fff"/>
 </g>
 <circle cx="792" cy="462" r="141" fill="#fadcde"/>
 <path d="M792 392C835 392 855 425 855 450C855 480 830 495 810 500L795 512H765C770 490 742 470 742 445C742 415 765 392 792 392Z" fill="#e9505e"/>
 <path d="M752 508L800 515L795 525L785 535H760L752 522Z" fill="#263238"/>
 <path d="M447 235L424 200C420 170 470 170 472 200Z" fill="#fff"/><circle cx="447" cy="197" r="10" fill="#79c9bf"/>
 <path d="M270 382L283 412L308 415L290 433L295 453L270 445L245 453L250 433L232 415L257 412Z" fill="#fff" stroke="#444"/>
 <g fill="none" stroke="#455a64" stroke-width="2"><circle cx="749" cy="173" r="19"/><circle cx="749" cy="173" r="48" stroke-dasharray="18 8"/><circle cx="1057" cy="125" r="21"/><path d="M1043 141L1020 160M402 610L490 660M402 610V635M402 610H428M445 650L460 640M500 590V684H390"/></g>
 <path d="M1047 318a14 14 0 1 1-.1 0M1025 362C1030 335 1065 335 1068 362Z" fill="#eee" stroke="#555"/>
 <circle cx="1313" cy="430" r="48" fill="#f3f3f3" stroke="#777" stroke-width="2"/><circle cx="1313" cy="430" r="26" fill="none" stroke="#777" stroke-width="9"/><circle cx="1313" cy="430" r="6" fill="#777"/>
 <circle cx="1170" cy="642" r="50" fill="#f3f3f3" stroke="#666" stroke-width="2"/><path d="M1170 605V645H1145" fill="none" stroke="#666" stroke-width="3"/>
 <circle cx="978" cy="765" r="7" fill="#fff"/><circle cx="998" cy="777" r="7" fill="#fff"/><circle cx="980" cy="792" r="7" fill="#fff"/>
 <g fill="#adadad">
  <circle cx="276" cy="202" r="29"/><path d="M226 277C230 215 320 215 327 277Z"/>
  <path d="M583 832L548 785C530 720 630 720 622 785Z"/>
  <path d="M1378 672L1388 715L1422 730L1390 750L1388 790L1352 762L1310 775L1330 735L1303 700L1345 702Z"/>
  <circle cx="1232" cy="156" r="23"/><circle cx="1190" cy="218" r="23"/><circle cx="1261" cy="242" r="23"/>
 </g>
 <circle cx="256" cy="603" r="34" fill="none" stroke="#adadad" stroke-width="30"/>
 <circle cx="256" cy="603" r="52" fill="none" stroke="#adadad" stroke-width="12" stroke-dasharray="24 17"/>
 <circle cx="583" cy="773" r="17" fill="#79c9bf"/>
 <path d="M1232 156L1190 218L1261 242" fill="none" stroke="#adadad" stroke-width="8"/>
 <!-- body -->
 <path d="M460 1245C480 1150 510 1060 540 1025C600 1000 650 985 700 955L860 980L990 1025C1040 1050 1055 1100 1052 1180L1042 1278L950 1255L830 1425L590 1380Z" fill="#e9505e"/>
 <path d="M765 1065L830 1425L785 1420L765 1300Z" fill="#a2333f"/>
 <path d="M700 930V1000C710 1040 740 1060 765 1065L765 930Z" fill="#ffbc9c"/>
 <path d="M460 1245L452 1420C450 1480 480 1515 510 1518H1000C1015 1490 1020 1480 1015 1465L1032 1440L1030 1422H985L920 1458L830 1425L590 1375V1280Z" fill="#ffbc9c"/>
 <path d="M765 1065L815 1380C830 1430 880 1460 920 1458C960 1455 985 1425 1000 1395C1020 1340 1030 1310 1042 1278L950 1252L860 1010C880 920 880 880 870 850C840 820 790 815 760 850L750 905L762 960Z" fill="#ffbc9c"/>
 <path d="M815 1380C830 1430 880 1460 920 1458C960 1455 985 1425 1000 1395M528 1455Q545 1395 590 1375M935 1250L965 1330" fill="none" stroke="#f0a27c" stroke-width="2"/>
 <path d="M672 690L860 650L878 760L870 860L780 920L740 935C680 920 650 890 648 850Z" fill="#ffbc9c"/>
 <ellipse cx="898" cy="825" rx="25" ry="32" fill="#ffbc9c"/>
 <path d="M703 935Q740 950 775 928V942Q740 952 705 945Z" fill="#f0a27c"/>
 <path d="M758 1055L762 950L750 910L765 870L790 830C820 810 850 835 870 880L878 905L860 1010Z" fill="#ffbc9c"/>
 <path d="M750 905L765 875L800 895M790 830L820 880M825 825L850 870" fill="none" stroke="#f0a27c" stroke-width="2"/>
 <path d="M634 625C625 590 680 580 730 600C790 570 860 585 875 632C925 630 945 680 940 740C930 770 905 785 885 802L860 800L862 690L840 660C790 650 730 680 672 710C640 710 625 680 643 650Z" fill="#263238"/>
 <g fill="none" stroke="#263238" stroke-width="4"><path d="M752 735L714 805L738 815M733 847Q755 852 765 825"/></g>
 <path d="M692 712Q712 695 730 712M785 712Q808 690 832 715" stroke="#263238" stroke-width="6" fill="none"/>
 <ellipse cx="704" cy="743" rx="13" ry="8" fill="#263238"/><ellipse cx="800" cy="748" rx="13" ry="8" fill="#263238"/>
 <g fill="none" stroke="#fff" stroke-width="3">
  <path d="M615 1010Q650 990 665 1020T700 1010M595 1060Q620 1100 660 1080T720 1110T770 1090M495 1105Q530 1100 545 1135T597 1125M470 1190Q500 1180 520 1215T590 1215M600 1185Q640 1180 680 1190T730 1230T785 1215M590 1310Q625 1290 650 1330T710 1320T795 1330M860 1020Q890 1015 905 1050T955 1030M950 1085Q990 1060 1000 1095T1045 1080M908 1130Q945 1120 975 1160T1050 1175M930 1200Q960 1215 985 1245T1045 1235"/>
 </g>
 <path d="M575 1020Q595 1050 592 1072M595 1150V1280M920 1100Q945 1045 995 1030" fill="none" stroke="#263238" stroke-width="3"/>
</g>

<!-- LOGO -->
<g transform="translate(1334.2 27.1) scale(.15076)">
 <path fill="none" stroke="#231f20" stroke-width="6" d="M207 420L570 172M207 420L471 455M207 420L400 651M570 172L757 141M570 172L611 292M570 172L471 455M757 141L866 134M866 134L1181 138M757 141L611 292M757 141L820 366M866 134L820 366M866 134L995 273M1181 138L995 273M1181 138L1080 538M1181 138L1343 414M995 273L820 366M995 273L1080 538M611 292L471 455M611 292L820 366M820 366L471 455M820 366L1080 538M471 455L400 651M471 455L622 655M471 455L761 597M400 651L622 655M622 655L761 597M761 597L1080 538M761 597L959 766M1080 538L1343 414M1080 538L1214 649M1080 538L959 766M1343 414L1214 649M1214 649L959 766"/>
 <g fill="#231f20"><circle cx="207" cy="420" r="15"/><circle cx="570" cy="172" r="18"/><circle cx="757" cy="141" r="14"/><circle cx="866" cy="134" r="23"/><circle cx="1181" cy="138" r="20"/><circle cx="995" cy="273" r="19"/><circle cx="611" cy="292" r="13"/><circle cx="820" cy="366" r="11"/><circle cx="471" cy="455" r="21"/><circle cx="1343" cy="414" r="16"/><circle cx="1080" cy="538" r="26"/><circle cx="400" cy="651" r="20"/><circle cx="622" cy="655" r="13"/><circle cx="761" cy="597" r="15"/><circle cx="1214" cy="649" r="11"/><circle cx="959" cy="766" r="13"/></g>
 <text x="585" y="508" font-size="92" font-style="italic" fill="#231f20" textLength="358" lengthAdjust="spacing">HUBBA</text>
</g>

<!-- TITLE -->
<g font-weight="bold" font-size="37">
 <text x="634" y="98" textLength="393" lengthAdjust="spacingAndGlyphs" fill="#000">CULTURE comes from</text>
 <text x="397" y="142" textLength="141" lengthAdjust="spacingAndGlyphs" fill="#f5bf5c">ACTION</text>
 <text x="546" y="142" textLength="160" lengthAdjust="spacingAndGlyphs" fill="#000">from the</text>
 <text x="715" y="142" textLength="190" lengthAdjust="spacingAndGlyphs" fill="#e9505e">COMPANY</text>
 <text x="914" y="142" textLength="143" lengthAdjust="spacingAndGlyphs" fill="#000">and the</text>
 <text x="1064" y="142" textLength="209" lengthAdjust="spacingAndGlyphs" fill="#79c9bf">INDIVIDUAL</text>
</g>
<g font-size="27" fill="#111">
 <text x="36" y="350" textLength="90" lengthAdjust="spacingAndGlyphs">VISIBLE</text>
 <text x="24" y="786" textLength="114" lengthAdjust="spacingAndGlyphs">INVISIBLE</text>
</g>
<text x="1199" y="379" font-size="30" font-weight="bold" fill="#f5bf5c" textLength="117" lengthAdjust="spacingAndGlyphs">ACTION</text>
<g font-size="26" fill="#222">
 <text x="1215" y="417" textLength="125" lengthAdjust="spacingAndGlyphs">- Artifacts</text>
 <text x="1215" y="447" textLength="143" lengthAdjust="spacingAndGlyphs">- Behaviors</text>
 <text x="1215" y="477" textLength="110" lengthAdjust="spacingAndGlyphs">- Metrics</text>
</g>
<g font-size="29" font-weight="bold" fill="#000">
 <text x="407" y="680" textLength="243" lengthAdjust="spacingAndGlyphs">VISION / MISSION</text>
 <text x="889" y="651" textLength="201" lengthAdjust="spacingAndGlyphs">MOTIVATIONS</text>
 <text x="1224" y="729" textLength="152" lengthAdjust="spacingAndGlyphs">ATTITUDES</text>
 <text x="296" y="856" textLength="89" lengthAdjust="spacingAndGlyphs">WORK</text>
 <text x="230" y="890" textLength="220" lengthAdjust="spacingAndGlyphs">ORGANIZATION</text>
 <text x="589" y="901" textLength="79" lengthAdjust="spacingAndGlyphs">GOAL</text>
 <text x="1039" y="903" textLength="108" lengthAdjust="spacingAndGlyphs">VALUES</text>
 <text x="430" y="816" textLength="156" lengthAdjust="spacingAndGlyphs" fill="#e9505e">COMPANY</text>
 <text x="1034" y="816" textLength="172" lengthAdjust="spacingAndGlyphs" fill="#79c9bf">INDIVIDUAL</text>
</g>
<!-- footer -->
<rect x="0" y="1051" width="1568" height="57.5" fill="#dedede"/>
<text x="1184" y="1084" font-size="15.5" fill="#111" textLength="341" lengthAdjust="spacingAndGlyphs">Culture strategy workshop by HUBBA Thailand</text>
</svg>
</body></html>
